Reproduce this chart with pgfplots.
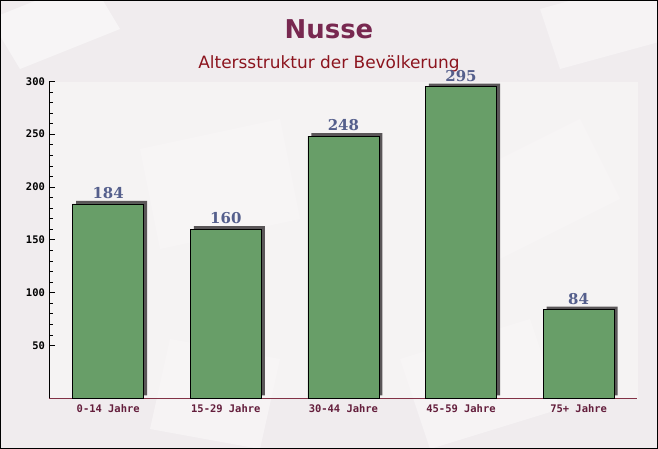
\documentclass[border=0pt]{standalone}
\usepackage{pgfplots}
\pgfplotsset{compat=1.18}
\usepackage{fontspec}
\setmainfont{DejaVu Sans}
\newfontfamily\monofont{DejaVu Sans Mono}
\newfontfamily\seriffont{DejaVu Serif}
\definecolor{bgc}{RGB}{240,236,238}
\definecolor{plotbg}{RGB}{248,246,246}
\definecolor{barc}{RGB}{104,158,104}
\definecolor{shadowc}{RGB}{90,86,88}
\definecolor{titlec}{RGB}{120,40,80}
\definecolor{subc}{RGB}{140,20,30}
\definecolor{valc}{RGB}{85,95,140}
\definecolor{xlabc}{RGB}{100,30,60}
\definecolor{xaxc}{RGB}{130,50,70}
\begin{document}
\begin{tikzpicture}[x=1bp,y=1bp]
\useasboundingbox (0,0) rectangle (658,449);
\begin{scope}
\clip (0,0) rectangle (658,449);
\fill[bgc] (0,0) rectangle (658,449);
\fill[white,opacity=0.5] (20,380) -- (120,420) -- (90,470) -- (-10,430) -- cycle;
\fill[white,opacity=0.4] (160,200) -- (300,230) -- (280,330) -- (140,300) -- cycle;
\fill[white,opacity=0.4] (480,180) -- (620,250) -- (580,330) -- (440,260) -- cycle;
\fill[white,opacity=0.4] (430,0) -- (560,40) -- (530,130) -- (400,90) -- cycle;
\fill[white,opacity=0.4] (150,20) -- (260,0) -- (280,90) -- (170,110) -- cycle;
\fill[white,opacity=0.4] (560,380) -- (670,410) -- (650,470) -- (540,440) -- cycle;
\fill[plotbg,opacity=0.7] (50,50) rectangle (638,367);
\end{scope}
\draw[black, line width=1bp] (0.5,0.5) rectangle (657.5,448.5);
\node[font=\fontsize{26}{30}\selectfont\bfseries, text=titlec, anchor=base] at (329,410) {Nusse};
\node[font=\fontsize{17}{20}\selectfont, text=subc, anchor=base] at (329,380) {Altersstruktur der Bevölkerung};
\begin{axis}[
  at={(42,48)}, anchor=south west,
  scale only axis, width=588bp, height=317bp,
  xmin=-0.5, xmax=4.5, ymin=0, ymax=300,
  axis x line*=bottom, axis y line*=left,
  x axis line style={draw=xaxc, line width=0.8pt, -},
  y axis line style={draw=black, line width=0.8pt, -},
  /pgf/number format/assume math mode=true,
  xtick={0,1,2,3,4},
  xticklabels={0-14 Jahre,15-29 Jahre,30-44 Jahre,45-59 Jahre,75+ Jahre},
  x tick label style={font=\monofont\bfseries\fontsize{10.5}{12}\selectfont, text=xlabc},
  xtick style={draw=none},
  extra x ticks={0.5,1.5,2.5,3.5,4.5},
  extra x tick labels={},
  extra x tick style={tick style={draw=xaxc, line width=0.8pt}, major tick length=5bp, tick align=inside},
  ytick={50,100,...,300},
  minor y tick num=4,
  y tick label style={font=\monofont\bfseries\fontsize{10.5}{12}\selectfont, text=black},
  y tick style={draw=black, line width=0.6pt},
  tick align=inside,
  major tick length=6bp, minor tick length=4bp,
  x tick label style={yshift=-3bp},
  y tick label style={xshift=-1bp},
  clip=false,
  nodes near coords,
  every node near coord/.append style={font=\seriffont\bfseries\fontsize{15}{18}\selectfont, text=valc, anchor=south, inner sep=1bp, yshift=4bp},
]
\addplot[ybar, bar width=0.604, fill=barc, draw=black, line width=0.6pt,
  preaction={fill=shadowc, draw=none, transform canvas={xshift=3.5bp, yshift=3bp}}]
  coordinates {(0,184) (1,160) (2,248) (3,295) (4,84)};
\end{axis}
\end{tikzpicture}
\end{document}
